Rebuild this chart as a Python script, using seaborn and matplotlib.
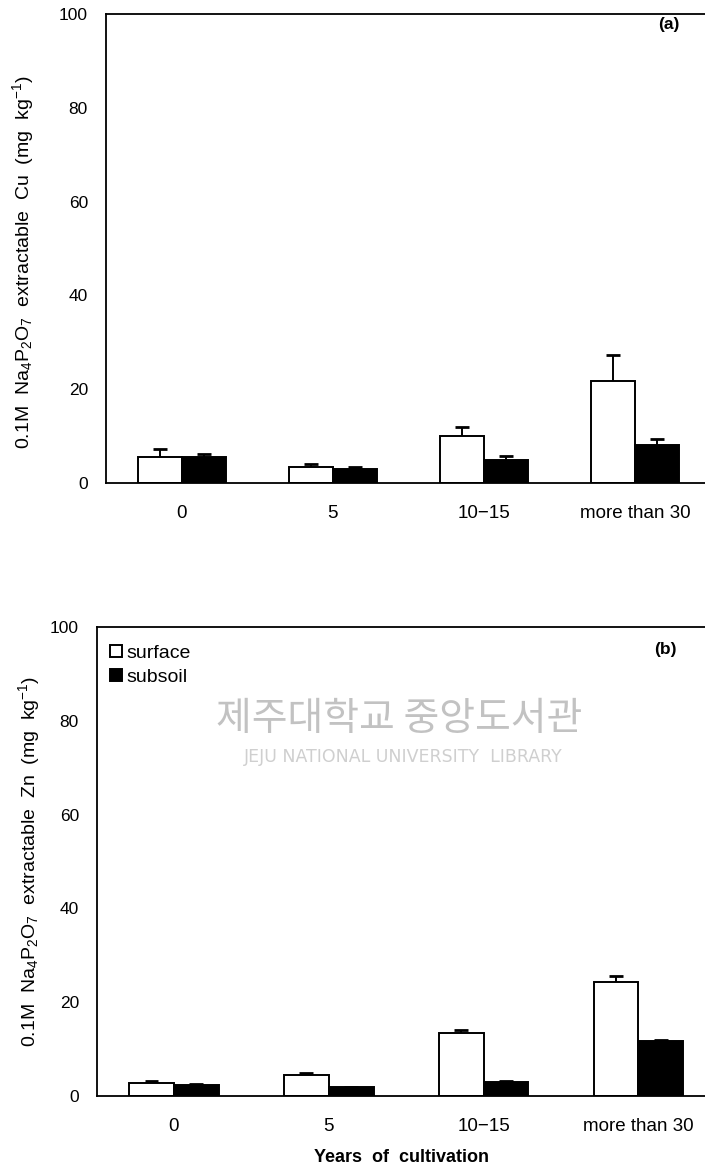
import numpy as np
import pandas as pd
import matplotlib
matplotlib.use("Agg")
import matplotlib.pyplot as plt
import seaborn as sns

# ---------------- data ----------------
years = ["0", "5", "10\u221215", "more than 30"]
layers = ["surface", "subsoil"]

cu_surface = [5.6, 3.5, 10.0, 21.7]
cu_subsoil = [5.6, 3.0, 4.8, 8.0]
cu_surface_err = [1.6, 0.5, 2.0, 5.5]
cu_subsoil_err = [0.5, 0.5, 1.0, 1.3]

zn_surface = [2.8, 4.4, 13.4, 24.3]
zn_subsoil = [2.4, 1.9, 3.0, 11.7]
zn_surface_err = [0.4, 0.4, 0.6, 1.2]
zn_subsoil_err = [0.15, 0.1, 0.2, 0.2]

y_ticks = [0, 20, 40, 60, 80, 100]

# ---------------- style ----------------
sns.set_style("white")
plt.rcParams["font.family"] = ["Liberation Sans", "Noto Sans CJK KR", "DejaVu Sans"]
plt.rcParams["mathtext.fontset"] = "custom"
plt.rcParams["mathtext.rm"] = "Liberation Sans"
plt.rcParams["mathtext.it"] = "Liberation Sans:italic"
plt.rcParams["mathtext.bf"] = "Liberation Sans:bold"
for key in ["text.color", "axes.labelcolor", "xtick.color", "ytick.color", "axes.edgecolor"]:
    plt.rcParams[key] = "black"

fig = plt.figure(figsize=(7.05, 11.71), dpi=100)
ax_a = fig.add_axes([106 / 705, 1 - 483 / 1171, 1 - 106 / 705, 469 / 1171])
ax_b = fig.add_axes([97 / 705, 1 - 1096 / 1171, 1 - 97 / 705, 469 / 1171])


def make_df(surf, sub):
    return pd.DataFrame({
        "years": years * 2,
        "layer": [layers[0]] * len(years) + [layers[1]] * len(years),
        "value": list(surf) + list(sub),
    })


def draw_panel(ax, surf, sub, surf_err, sub_err, element, legend, xlim):
    df = make_df(surf, sub)
    sns.barplot(data=df, x="years", y="value", hue="layer",
                order=years, hue_order=layers,
                palette=["white", "black"], edgecolor="black", linewidth=1.4,
                width=0.58, errorbar=None, legend=legend, ax=ax)
    for cont, vals, errs in zip(ax.containers[:2], [surf, sub], [surf_err, sub_err]):
        xs = np.array([b.get_x() + b.get_width() / 2 for b in cont])
        vals = np.asarray(vals)
        tops = vals + np.asarray(errs)
        ax.vlines(xs, vals, tops, color="black", linewidth=1.4, zorder=1)
        ax.hlines(tops, xs - 0.045, xs + 0.045, color="black", linewidth=2.0, zorder=1)
    ax.set_ylim(0, 100)
    ax.set_xlim(*xlim)
    ax.set_yticks(y_ticks)
    ax.tick_params(axis="y", direction="in", length=4, width=1, pad=13, labelsize=12.5,
                   colors="black")
    ax.tick_params(axis="x", length=0, pad=16, labelsize=13.5, colors="black")
    for s in ["left", "bottom", "top"]:
        ax.spines[s].set_visible(True)
        ax.spines[s].set_linewidth(1.3)
        ax.spines[s].set_color("black")
    ax.spines["right"].set_visible(False)
    ax.set_ylabel("0.1M  Na$_4$P$_2$O$_7$  extractable  " + element + "  (mg  kg$^{-1}$)",
                  fontsize=14, color="black")
    ax.set_xlabel("")


draw_panel(ax_a, cu_surface, cu_subsoil, cu_surface_err, cu_subsoil_err, "Cu", False, (-0.503, 3.464))
draw_panel(ax_b, zn_surface, zn_subsoil, zn_surface_err, zn_subsoil_err, "Zn", True, (-0.497, 3.43))

ax_a.yaxis.set_label_coords(-0.117, 0.47)
ax_b.yaxis.set_label_coords(-0.09, 0.5)

# minor inward ticks between groups on top panel
ax_a.set_xticks([0.5, 1.5, 2.5], minor=True)
ax_a.tick_params(axis="x", which="minor", direction="in", length=5, width=1)

ax_b.set_xlabel("Years  of  cultivation", fontsize=13, fontweight="bold", labelpad=10,
                color="black")

ax_a.text(0.94, 0.978, "(a)", transform=ax_a.transAxes, ha="center", va="center",
          fontsize=12.5, fontweight="bold", color="black")
ax_b.text(0.935, 0.953, "(b)", transform=ax_b.transAxes, ha="center", va="center",
          fontsize=12.5, fontweight="bold", color="black")

leg = ax_b.legend(loc="upper left", bbox_to_anchor=(0.022, 0.962), frameon=False,
                  fontsize=14, handlelength=0.6, handleheight=0.6, handletextpad=0.25,
                  labelspacing=0.35, borderaxespad=0, borderpad=0)
for t in leg.get_texts():
    t.set_color("black")

# library watermark
ax_b.text(0.497, 0.804, "제주대학교 중앙도서관", transform=ax_b.transAxes,
          ha="center", va="center", fontsize=28, color="#c2c2c2",
          family=["Noto Sans CJK KR", "DejaVu Sans"], zorder=0)
ax_b.text(0.504, 0.722, "JEJU NATIONAL UNIVERSITY  LIBRARY", transform=ax_b.transAxes,
          ha="center", va="center", fontsize=12.5, color="#cfcfcf",
          family=["DejaVu Sans"], zorder=0)

fig.savefig("out.png", dpi=100)
